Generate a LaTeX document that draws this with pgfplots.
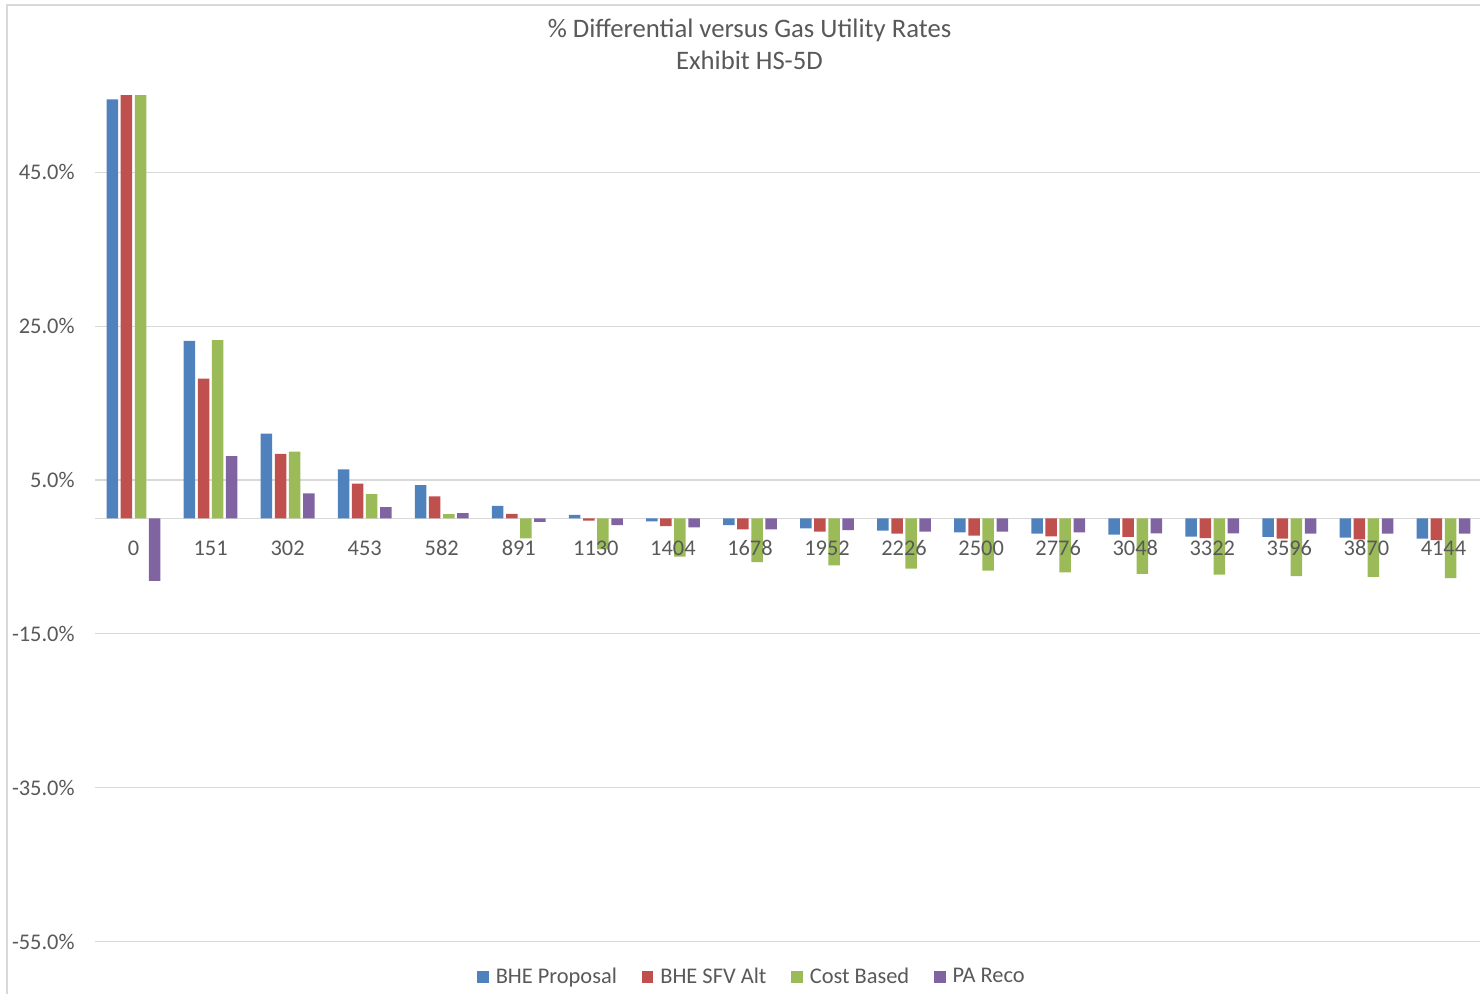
\documentclass[border=0pt]{standalone}
\usepackage{pgfplots}
\usepackage{pgfplotstable}
\pgfplotsset{compat=1.18}
\usepackage{fontspec}
\setmainfont{Carlito}

\definecolor{bheblue}{HTML}{4F81BD}
\definecolor{bhered}{HTML}{C0504D}
\definecolor{costgreen}{HTML}{9BBB59}
\definecolor{papurple}{HTML}{8064A2}
\definecolor{txtgray}{HTML}{595959}
\definecolor{gridgray}{HTML}{D9D9D9}

% tick labels above the bars, as in the original
\pgfplotsset{
    /pgfplots/layers/labelsontop/.define layer set={
        axis background,axis grid,axis ticks,axis lines,main,axis tick labels,
        axis descriptions,axis foreground
    }{/pgfplots/layers/standard},
}

% % differential per category (0..17 = 0,151,...,4144)
\pgfplotstableread{
x  bhe    sfv    cost   pa
0  54.5   56.5   56.5  -8.1
1  23.1   18.2   23.2   8.1
2  11.05  8.4    8.7    3.25
3  6.4    4.55   3.16   1.47
4  4.33   2.86   0.56   0.69
5  1.63   0.59  -2.6   -0.45
6  0.46  -0.28  -4.0   -0.85
7  -0.37 -0.98  -4.97  -1.15
8  -0.85 -1.41  -5.66  -1.41
9  -1.28 -1.71  -6.09  -1.5
10 -1.58 -1.97  -6.52  -1.71
11 -1.8  -2.23  -6.78  -1.71
12 -1.97 -2.32  -7.0   -1.8
13 -2.1  -2.4   -7.2   -1.93
14 -2.36 -2.54  -7.3   -1.93
15 -2.4  -2.62  -7.48  -1.97
16 -2.49 -2.71  -7.6   -1.97
17 -2.62 -2.8   -7.74  -1.97
}\datatable

\begin{document}
\begin{tikzpicture}
\begin{axis}[
    set layers=labelsontop,
    at={(0pt,0pt)}, anchor=south west,
    scale only axis,
    width=693.5pt, height=423pt,
    xmin=-0.5, xmax=17.5,
    ymin=-55, ymax=55,
    ybar=1.3pt, bar width=5.75pt,
    axis line style={draw=none},
    major tick length=0pt,
    xtick={0,...,17},
    xticklabels={0,151,302,453,582,891,1130,1404,1678,1952,2226,2500,2776,3048,3322,3596,3870,4144},
    xticklabel style={anchor=center, inner sep=0pt, yshift=196.75pt, text=txtgray,
        font=\fontsize{11.2}{13}\selectfont},
    ytick={-55,-35,...,45},
    yticklabel={\pgfmathprintnumber[fixed,fixed zerofill,precision=1]{\tick}\%},
    yticklabel style={anchor=east, inner sep=0pt, xshift=-10pt, text=txtgray,
        font=\fontsize{11.2}{13}\selectfont},
    /pgf/number format/assume math mode=true,
    ymajorgrids,
    major grid style={gridgray, line width=0.6pt},
    extra y ticks={0},
    extra y tick labels={},
    extra y tick style={grid=major},
    legend columns=4,
    legend style={at={(0.4744,-0.042)}, anchor=center, draw=none, fill=none,
        font=\fontsize{11.2}{13}\selectfont, text=txtgray,
        /tikz/every even column/.append style={column sep=10.5pt}},
    legend image code/.code={\fill[#1] (0pt,-2.85pt) rectangle (5.7pt,2.85pt);
        \path (7.2pt,0pt);},
]
\addplot[fill=bheblue, draw=none] table[x=x, y=bhe] {\datatable};
\addplot[fill=bhered, draw=none] table[x=x, y=sfv] {\datatable};
\addplot[fill=costgreen, draw=none] table[x=x, y=cost] {\datatable};
\addplot[fill=papurple, draw=none] table[x=x, y=pa] {\datatable};
\legend{BHE Proposal, BHE SFV Alt, Cost Based, PA Reco}
\end{axis}

% title
\node[anchor=base, text=txtgray, font=\fontsize{13.35}{16}\selectfont]
    at (327.25pt,451.75pt) {\% Differential versus Gas Utility Rates};
\node[anchor=base, text=txtgray, font=\fontsize{13.35}{16}\selectfont]
    at (327.25pt,435.75pt) {Exhibit HS-5D};

% chart area border
\draw[gridgray, line width=0.7pt] (-44pt,-40pt) -- (-44pt,468.25pt) -- (720pt,468.25pt);

\pgfresetboundingbox
\useasboundingbox (-47.5pt,-26.25pt) rectangle (692.5pt,470.75pt);
\end{tikzpicture}
\end{document}
